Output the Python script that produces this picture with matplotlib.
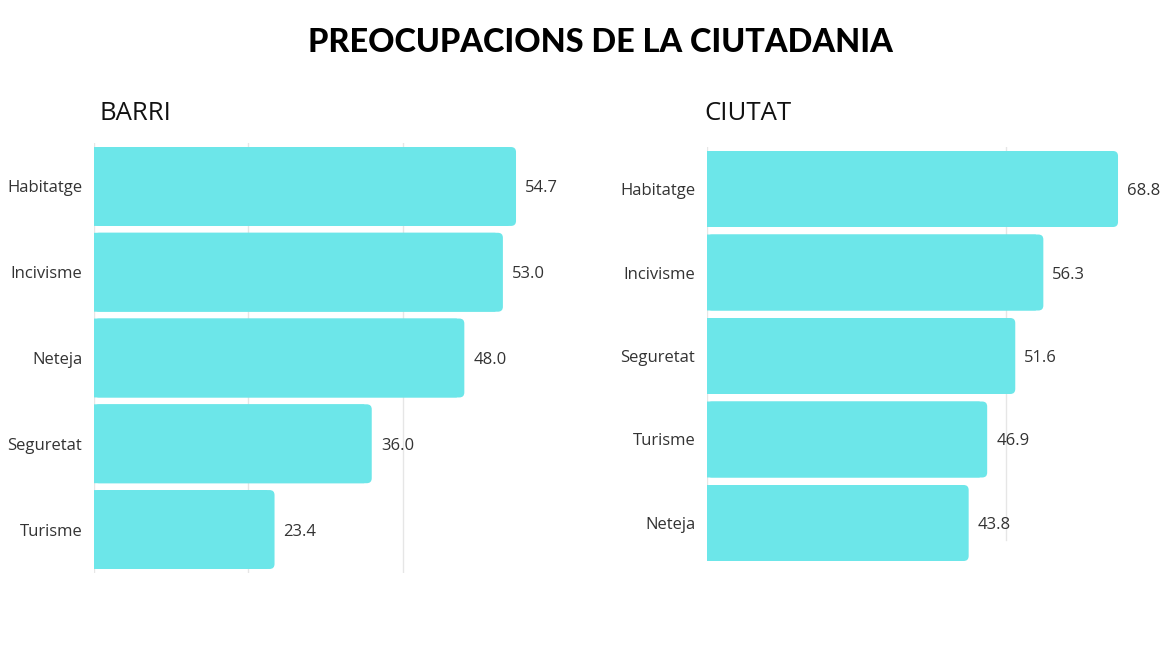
import matplotlib
matplotlib.use("Agg")
import matplotlib.pyplot as plt
from matplotlib.patches import FancyBboxPatch, Rectangle

title = "PREOCUPACIONS DE LA CIUTADANIA"

barri_title = "BARRI"
barri_cats = ["Habitatge", "Incivisme", "Neteja", "Seguretat", "Turisme"]
barri_vals = [54.7, 53.0, 48.0, 36.0, 23.4]

ciutat_title = "CIUTAT"
ciutat_cats = ["Habitatge", "Incivisme", "Seguretat", "Turisme", "Neteja"]
ciutat_vals = [68.8, 56.3, 51.6, 46.9, 43.8]

BAR_COLOR = "#6ce6e9"
GRID_COLOR = "#e6e6e6"
TEXT_COLOR = "#333333"

plt.rcParams['font.family'] = ['Open Sans', 'DejaVu Sans']

W, H = 1170, 658
fig = plt.figure(figsize=(W / 100, H / 100), dpi=100)


def px_axes(x0, x1, y_top, y_bot):
    return fig.add_axes([x0 / W, 1 - y_bot / H, (x1 - x0) / W, (y_bot - y_top) / H])


def draw_panel(ax, cats, vals, xmax, grid_vals, grid_ymin, bar_h, ylim_pad):
    ax.set_xlim(0, xmax)
    ax.set_ylim(len(cats) - 0.5 + ylim_pad, -0.5 - ylim_pad)
    for g in grid_vals:
        ax.axvline(g, ymin=grid_ymin, ymax=1, color=GRID_COLOR, lw=1, zorder=0)
    bars = ax.barh(range(len(cats)), vals, height=bar_h, color=BAR_COLOR, zorder=2)
    fig.canvas.draw()
    inv = ax.transData.inverted()
    p0 = inv.transform((0, 0))
    p1 = inv.transform((5, 5))
    rx = abs(p1[0] - p0[0])
    ry = abs(p1[1] - p0[1])
    for b in bars:
        x, y, w, h = b.get_x(), b.get_y(), b.get_width(), b.get_height()
        b.set_visible(False)
        fp = FancyBboxPatch((x, y), w, h,
                            boxstyle=f"round,pad=0,rounding_size={rx}",
                            mutation_aspect=ry / rx,
                            fc=BAR_COLOR, ec="none", zorder=2, snap=False)
        ax.add_patch(fp)
        ax.add_patch(Rectangle((x, y), w - rx * 1.5, h, fc=BAR_COLOR, ec="none",
                               zorder=2, snap=False))
    labels = ax.bar_label(bars, labels=[f"{v:.1f}" for v in vals], padding=6.5,
                          fontsize=12, color=TEXT_COLOR, clip_on=False)
    for t in labels:
        t.set_va("center_baseline")
    ax.set_yticks(range(len(cats)))
    ax.set_yticklabels(cats, fontsize=12, color=TEXT_COLOR)
    ax.tick_params(axis='y', length=0, pad=8.5)
    ax.set_xticks([])
    for s in ax.spines.values():
        s.set_visible(False)
    ax.set_facecolor("none")


ax1 = px_axes(94, 94 + 60 * 7.715, 143, 573)
draw_panel(ax1, barri_cats, barri_vals, 60, [0, 20, 40], 0.0, 0.92, 0.007)

ax2 = px_axes(707, 707 + 75 * 5.974, 147, 565)
draw_panel(ax2, ciutat_cats, ciutat_vals, 75, [0, 50], 25 / 418, 0.91, 0.003)

fig.text(600 / W, 1 - 43 / H, title, ha="center", va="center",
         fontsize=23.3, fontweight=900, family=["Lato", "DejaVu Sans"], color="black")
fig.text(100 / W, 1 - 113 / H, barri_title, ha="left", va="center",
         fontsize=18.5, color="#111111")
fig.text(704 / W, 1 - 113 / H, ciutat_title, ha="left", va="center",
         fontsize=18.5, color="#111111")

fig.savefig("out.png", dpi=100, facecolor="white")
